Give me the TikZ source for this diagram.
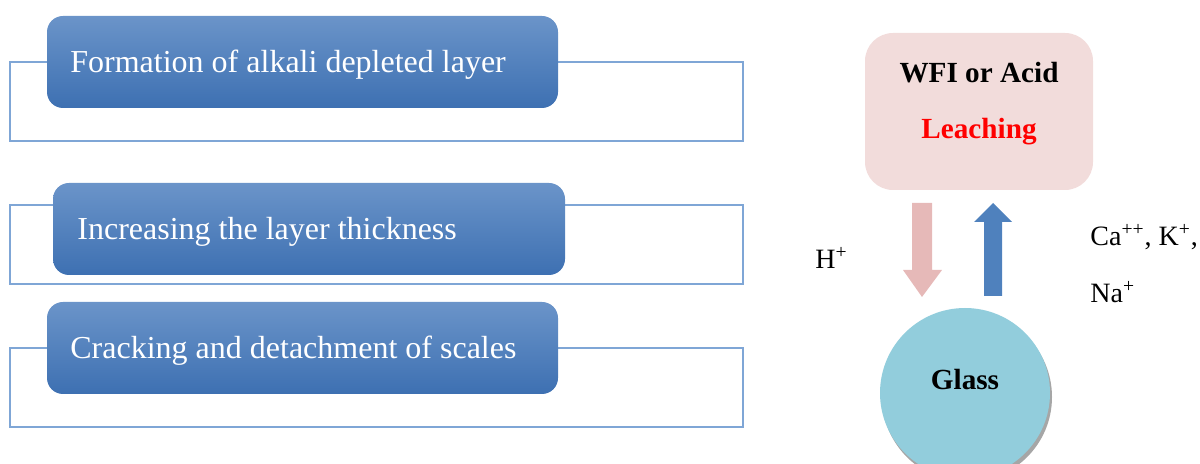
\documentclass[tikz,border=0pt]{standalone}
\usepackage{fontspec}
\setmainfont{Liberation Serif}
\definecolor{frameblue}{HTML}{7FA6D6}
\definecolor{boxtop}{HTML}{6B94C9}
\definecolor{boxbot}{HTML}{3D70B2}
\definecolor{pinkbox}{HTML}{F2DCDB}
\definecolor{pinkarrow}{HTML}{E6B9B8}
\definecolor{bluearrow}{HTML}{4F81BD}
\definecolor{glassfill}{HTML}{92CDDC}
\begin{document}
\begin{tikzpicture}[x=0.5pt,y=-0.5pt,
  frame/.style={draw=frameblue,line width=0.6pt},
  stagebox/.style={rounded corners=8pt,top color=boxtop,bottom color=boxbot,draw=none},
  stagetext/.style={anchor=west,text=white,font=\fontsize{16}{18}\selectfont,inner sep=0pt},
  ion/.style={anchor=west,font=\fontsize{14}{16}\selectfont,inner sep=0pt},
  boldlabel/.style={font=\bfseries\fontsize{14.6}{16}\selectfont,inner sep=0pt}]
\useasboundingbox (0,0) rectangle (1200,464);

% stage frames behind the blue boxes
\draw[frame] (10,62) rectangle (743,141);
\draw[frame] (10,205) rectangle (743,284);
\draw[frame] (10,348) rectangle (743,427);

% stage boxes
\path[stagebox] (47,16) rectangle (558,108);
\node[stagetext] (s1) at (70,65) {Formation of alkali depleted layer};
\path[stagebox] (53,183) rectangle (565,275);
\node[stagetext] (s2) at (77,232) {Increasing the layer thickness};
\path[stagebox] (47,302) rectangle (558,394);
\node[stagetext] (s3) at (70,351) {Cracking and detachment of scales};

% leaching box
\path[fill=pinkbox,rounded corners=14pt] (865,33) rectangle (1093,190);
\node[boldlabel] (wfi) at (979,73) {WFI or Acid};
\node[boldlabel,text=red] (leach) at (979,132) {Leaching};

% ion exchange arrows
\fill[pinkarrow] (912,203) -- (932,203) -- (932,270) -- (942,270) -- (922,297)
  -- (903,270) -- (912,270) -- cycle;
\fill[bluearrow] (984,296) -- (1002,296) -- (1002,222) -- (1012,222) -- (993,203)
  -- (974,222) -- (984,222) -- cycle;

% glass
\fill[gray!70] (967,397) circle[radius=85];
\fill[glassfill] (965,393) circle[radius=85];
\node[boldlabel] (glass) at (965,380) {Glass};

% ions
\node[ion] (h) at (815,258) {H\textsuperscript{+}};
\node[ion] (ca) at (1090,237) {Ca\textsuperscript{++}, K\textsuperscript{+},};
\node[ion] (na) at (1090,292) {Na\textsuperscript{+}};
\end{tikzpicture}
\end{document}
